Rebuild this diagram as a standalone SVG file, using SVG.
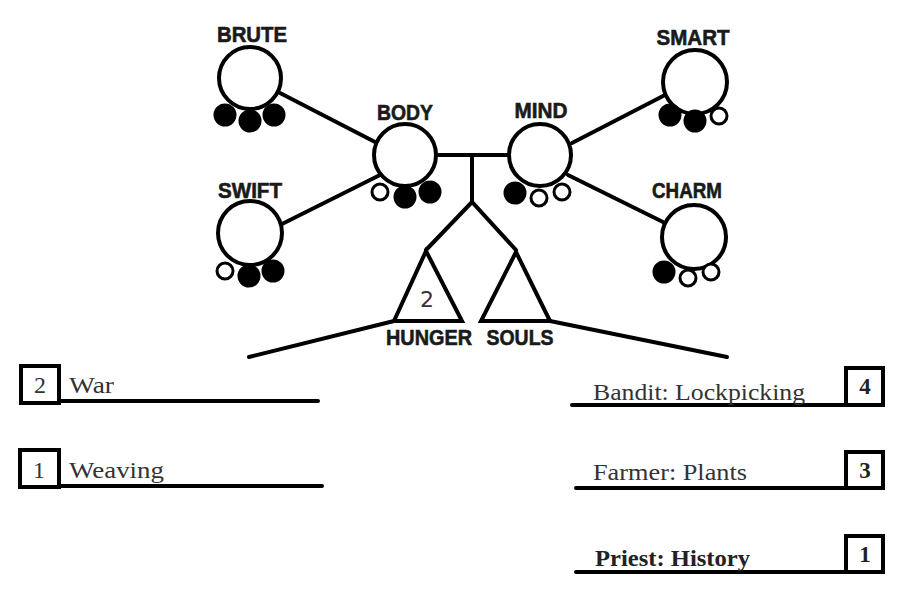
<svg xmlns="http://www.w3.org/2000/svg" width="900" height="600" viewBox="0 0 900 600">
<style>
.ring{fill:#fff;stroke:#000;stroke-width:4}
.full{fill:#000;stroke:#000;stroke-width:2}
.empty{fill:#fff;stroke:#000;stroke-width:3}
.ln{stroke:#000;stroke-width:4;fill:none;stroke-linecap:round}
.hd{font-family:"Liberation Sans",Arial,sans-serif;font-weight:bold;font-size:22px;fill:#1a1a1a;stroke:#1a1a1a;stroke-width:0.6;text-anchor:middle}
.sk{font-family:"Liberation Serif","Times New Roman",serif;font-size:24px;fill:#333}
.skb{font-family:"Liberation Serif","Times New Roman",serif;font-size:23px;fill:#222;font-weight:bold}
.box{fill:#fff;stroke:#000;stroke-width:4}
</style>
<rect width="900" height="600" fill="#fff"/>
<g id="connectors">
<line class="ln" x1="280" y1="93" x2="377" y2="143"/>
<line class="ln" x1="380" y1="175" x2="282" y2="224"/>
<line class="ln" x1="572" y1="143" x2="665" y2="95"/>
<line class="ln" x1="568" y1="175" x2="665" y2="223"/>
<line class="ln" x1="437" y1="155" x2="508" y2="155"/>
<line class="ln" x1="472" y1="155" x2="472" y2="202"/>
<polyline class="ln" points="426,250 472,202 516,250"/>
<line class="ln" x1="394" y1="321" x2="249" y2="357"/>
<line class="ln" x1="550" y1="321" x2="727" y2="357"/>
</g>
<g id="brute">
<circle class="ring" cx="250" cy="78" r="31"/>
<text class="hd" x="252" y="42" textLength="70" lengthAdjust="spacingAndGlyphs">BRUTE</text>
<circle class="full" cx="225" cy="115" r="10.5"/>
<circle class="full" cx="250" cy="121" r="10.5"/>
<circle class="full" cx="274" cy="115" r="10.5"/>
</g>
<g id="swift">
<circle class="ring" cx="250" cy="233" r="32"/>
<text class="hd" x="250" y="198" textLength="64" lengthAdjust="spacingAndGlyphs">SWIFT</text>
<circle class="empty" cx="225" cy="271" r="8"/>
<circle class="full" cx="249" cy="276" r="10.5"/>
<circle class="full" cx="273" cy="271" r="10.5"/>
</g>
<g id="body">
<circle class="ring" cx="405" cy="155" r="31"/>
<text class="hd" x="405" y="120" textLength="56" lengthAdjust="spacingAndGlyphs">BODY</text>
<circle class="empty" cx="380" cy="192" r="8"/>
<circle class="full" cx="405" cy="197" r="10.5"/>
<circle class="full" cx="430" cy="192" r="10.5"/>
</g>
<g id="mind">
<circle class="ring" cx="540" cy="155" r="31"/>
<text class="hd" x="541" y="118" textLength="53" lengthAdjust="spacingAndGlyphs">MIND</text>
<circle class="full" cx="515" cy="193" r="10.5"/>
<circle class="empty" cx="539" cy="198" r="8"/>
<circle class="empty" cx="562" cy="192" r="8"/>
</g>
<g id="smart">
<circle class="ring" cx="695" cy="82" r="32"/>
<text class="hd" x="693" y="45" textLength="73" lengthAdjust="spacingAndGlyphs">SMART</text>
<circle class="full" cx="670" cy="115" r="10.5"/>
<circle class="full" cx="695" cy="121" r="10.5"/>
<circle class="empty" cx="719" cy="116" r="8"/>
</g>
<g id="charm">
<circle class="ring" cx="694" cy="237" r="32"/>
<text class="hd" x="687" y="198" textLength="70" lengthAdjust="spacingAndGlyphs">CHARM</text>
<circle class="full" cx="664" cy="272" r="10.5"/>
<circle class="empty" cx="688" cy="278" r="8"/>
<circle class="empty" cx="711" cy="272" r="8"/>
</g>
<g id="hunger">
<polygon points="426,251 394,321 462,321" fill="none" stroke="#000" stroke-width="4" stroke-linejoin="miter"/>
<text x="427" y="307" font-family="'DejaVu Sans',sans-serif" font-size="22" fill="#333" text-anchor="middle">2</text>
<text class="hd" x="429" y="345" textLength="86" lengthAdjust="spacingAndGlyphs">HUNGER</text>
</g>
<g id="souls">
<polygon points="516,252 481,321 550,321" fill="none" stroke="#000" stroke-width="4" stroke-linejoin="miter"/>
<text class="hd" x="520" y="345" textLength="67" lengthAdjust="spacingAndGlyphs">SOULS</text>
</g>
<g id="war">
<line class="ln" x1="59" y1="401" x2="318" y2="401"/>
<rect class="box" x="21" y="366" width="38" height="37"/>
<text class="sk" x="40" y="393" text-anchor="middle">2</text>
<text class="sk" x="69" y="393" textLength="45" lengthAdjust="spacingAndGlyphs">War</text>
</g>
<g id="weaving">
<line class="ln" x1="59" y1="486" x2="322" y2="486"/>
<rect class="box" x="20" y="450" width="39" height="37"/>
<text class="sk" x="39" y="478" text-anchor="middle">1</text>
<text class="sk" x="69" y="478" textLength="95" lengthAdjust="spacingAndGlyphs">Weaving</text>
</g>
<g id="bandit">
<line class="ln" x1="572" y1="405" x2="845" y2="405"/>
<text class="sk" x="593" y="400" textLength="212" lengthAdjust="spacingAndGlyphs">Bandit: Lockpicking</text>
<rect class="box" x="846" y="368" width="37" height="37"/>
<text class="skb" x="865" y="394" text-anchor="middle">4</text>
</g>
<g id="farmer">
<line class="ln" x1="576" y1="488" x2="847" y2="488"/>
<text class="sk" x="593" y="480" textLength="154" lengthAdjust="spacingAndGlyphs">Farmer: Plants</text>
<rect class="box" x="846" y="452" width="37" height="36"/>
<text class="skb" x="865" y="478" text-anchor="middle">3</text>
</g>
<g id="priest">
<line class="ln" x1="576" y1="572" x2="847" y2="572"/>
<text class="skb" x="595" y="566" textLength="155" lengthAdjust="spacingAndGlyphs">Priest: History</text>
<rect class="box" x="846" y="536" width="37" height="36"/>
<text class="skb" x="865" y="562" text-anchor="middle">1</text>
</g>
</svg>
